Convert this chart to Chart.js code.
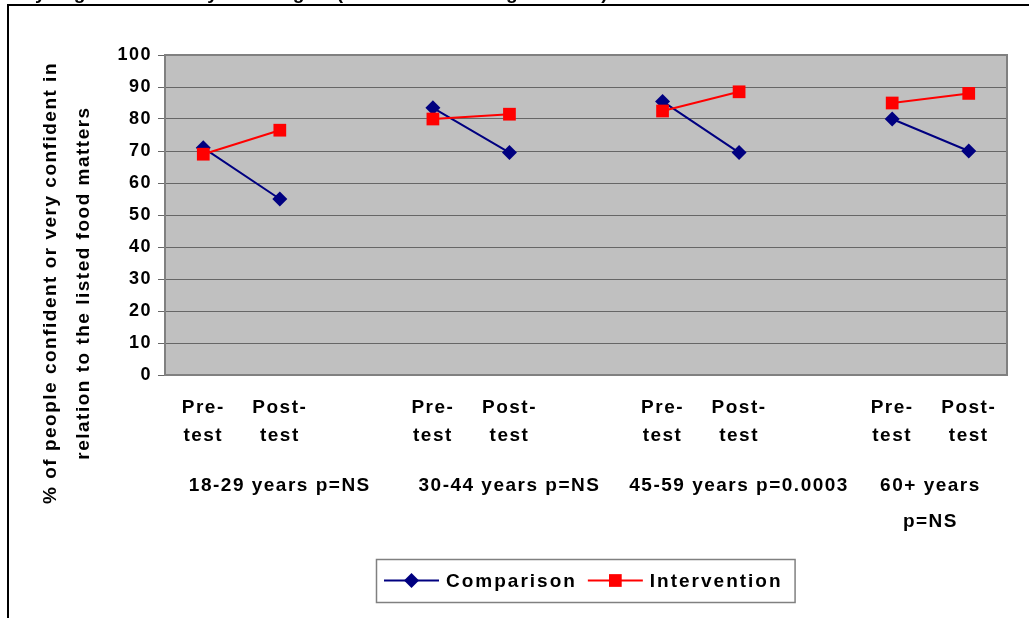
<!DOCTYPE html>
<html>
<head>
<meta charset="utf-8">
<script src="https://cdn.jsdelivr.net/npm/chart.js@4.4.1/dist/chart.umd.min.js"></script>
<style>
  html, body { margin: 0; padding: 0; background: #fff; overflow: hidden; }
  #wrap { position: relative; width: 1029px; height: 618px; }
  #frame { position: absolute; left: 7px; top: 4px; right: -20px; bottom: -20px;
           border-left: 2px solid #000; border-top: 2px solid #000; }
  #chart { position: absolute; left: 0; top: 0; width: 1029px; height: 618px; }
</style>
</head>
<body>
<div id="wrap"><div id="frame"></div><canvas id="chart" width="1029" height="618"></canvas></div>
<script>
var FONT = '"Liberation Sans", Arial, Helvetica, sans-serif';
var SPACING = "1.5px";

// caption sits above the frame; only its descenders reach into the page
var caption = "Confidence was fairly high for the key messages (across all the age bands)";

var categories = ["Pre-test", "Post-test", "", "Pre-test", "Post-test", "",
                  "Pre-test", "Post-test", "", "Pre-test", "Post-test"];
var groupLabels = [["18-29 years p=NS"], ["30-44 years p=NS"],
                   ["45-59 years p=0.0003"], ["60+ years", "p=NS"]];
var comparison   = [71, 55, null, 83.5, 69.5, null, 85.5, 69.5, null, 80, 70];
var intervention = [69, 76.5, null, 80, 81.5, null, 82.5, 88.5, null, 85, 88];
var yTitle = ["% of people confident or very confident in",
              "relation to the listed food matters"];
var yMin = 0, yMax = 100, yStep = 10;

// each group runs up to and including the blank spacer category after it
function groupSpans() {
  var spans = [], start = 0;
  categories.forEach(function (c, i) {
    if (c === "" || i === categories.length - 1) { spans.push([start, i]); start = i + 1; }
  });
  return spans;
}

function drawCaption(ctx) {
  ctx.save();
  ctx.font = "bold 19px " + FONT;
  ctx.letterSpacing = SPACING;
  ctx.fillStyle = "#000";
  ctx.textBaseline = "alphabetic";
  var lead = ctx.measureText("Confidence was fairl").width;
  ctx.fillText(caption, 35 - lead, -1);
  ctx.restore();
}

function drawYTitle(ctx) {
  ctx.save();
  ctx.font = "bold 19px " + FONT;
  ctx.letterSpacing = SPACING;
  ctx.fillStyle = "#000";
  ctx.textAlign = "center";
  ctx.textBaseline = "alphabetic";
  ctx.translate(56, 283);
  ctx.rotate(-Math.PI / 2);
  yTitle.forEach(function (line, i) { ctx.fillText(line, 0, i * 33); });
  ctx.restore();
}

function drawGroups(chart) {
  var ctx = chart.ctx, x = chart.scales.x;
  ctx.save();
  ctx.font = "bold 19px " + FONT;
  ctx.letterSpacing = SPACING;
  ctx.fillStyle = "#000";
  ctx.textAlign = "center";
  ctx.textBaseline = "alphabetic";
  groupSpans().forEach(function (s, g) {
    var cx = (x.getPixelForValue(s[0]) + x.getPixelForValue(s[1])) / 2;
    (groupLabels[g] || []).forEach(function (line, i) {
      ctx.fillText(line, cx, 491 + i * 36);
    });
  });
  ctx.restore();
}

function drawLegend(chart) {
  var ctx = chart.ctx, sets = chart.data.datasets;
  var lineLen = 55, gapText = 7, gapItem = 11, padL = 8, padR = 12, top = 559, h = 43;
  ctx.save();
  ctx.font = "bold 19px " + FONT;
  ctx.letterSpacing = "2px";
  var widths = sets.map(function (d) { return ctx.measureText(d.label).width; });
  var total = padL + padR;
  widths.forEach(function (w, i) { total += lineLen + gapText + w + (i < widths.length - 1 ? gapItem : 0); });
  var a = chart.chartArea;
  var left = Math.round((a.left + a.right) / 2 - total / 2) - 1;
  ctx.fillStyle = "#fff";
  ctx.fillRect(left, top, total, h);
  ctx.strokeStyle = "#808080";
  ctx.lineWidth = 1.5;
  ctx.strokeRect(left + 0.5, top + 0.5, total, h);
  var cy = top + h / 2;
  var x = left + padL;
  sets.forEach(function (d, i) {
    ctx.strokeStyle = d.borderColor;
    ctx.fillStyle = d.backgroundColor;
    ctx.lineWidth = 2;
    ctx.beginPath(); ctx.moveTo(x, cy); ctx.lineTo(x + lineLen, cy); ctx.stroke();
    Chart.helpers.drawPoint(ctx, { pointStyle: d.pointStyle, radius: d.pointRadius, rotation: 0, borderWidth: 0 },
                            x + lineLen / 2, cy);
    x += lineLen + gapText;
    ctx.fillStyle = "#000";
    ctx.textBaseline = "middle";
    ctx.textAlign = "left";
    ctx.fillText(d.label, x, cy + 1);
    x += widths[i] + gapItem;
  });
  ctx.restore();
}

var decor = {
  id: "decor",
  beforeLayout: function (chart) { chart.ctx.letterSpacing = SPACING; },
  beforeDraw: function (chart) {
    var ctx = chart.ctx, a = chart.chartArea;
    ctx.save();
    ctx.fillStyle = "#c0c0c0";
    ctx.fillRect(a.left, a.top, a.right - a.left, a.bottom - a.top);
    ctx.restore();
    ctx.letterSpacing = SPACING;
  },
  beforeDatasetsDraw: function (chart) {
    var ctx = chart.ctx, a = chart.chartArea;
    ctx.save();
    ctx.strokeStyle = "#808080";
    ctx.lineWidth = 2;
    ctx.strokeRect(a.left, a.top, a.right - a.left, a.bottom - a.top);
    ctx.restore();
  },
  afterDraw: function (chart) {
    drawCaption(chart.ctx);
    drawYTitle(chart.ctx);
    drawGroups(chart);
    drawLegend(chart);
  }
};

new Chart(document.getElementById("chart"), {
  type: "line",
  data: {
    labels: categories,
    datasets: [
      { label: "Comparison", data: comparison, borderColor: "#000080", backgroundColor: "#000080",
        borderWidth: 2, pointStyle: "rectRot", pointRadius: 7.5, pointHoverRadius: 7.5,
        pointBorderWidth: 0, spanGaps: false, tension: 0, order: 1 },
      { label: "Intervention", data: intervention, borderColor: "#ff0000", backgroundColor: "#ff0000",
        borderWidth: 2, pointStyle: "rect", pointRadius: 9, pointHoverRadius: 9,
        pointBorderWidth: 0, spanGaps: false, tension: 0, order: 0 }
    ]
  },
  options: {
    responsive: false,
    animation: false,
    devicePixelRatio: 1,
    layout: { padding: { left: 0, right: 22, top: 55, bottom: 0 } },
    plugins: { legend: { display: false }, tooltip: { enabled: false } },
    events: [],
    scales: {
      x: {
        type: "category",
        offset: true,
        grid: { display: false, drawTicks: false },
        border: { display: false },
        ticks: {
          autoSkip: false, maxRotation: 0, minRotation: 0, padding: 19, color: "#000",
          font: { family: FONT, size: 19, weight: "bold", lineHeight: 28 / 19 },
          callback: function (v, i) { var c = categories[i]; return c ? c.replace("-", "-\n").split("\n") : ""; }
        },
        afterFit: function (s) { s.height = 243; }
      },
      y: {
        min: yMin, max: yMax,
        grid: { color: "#666666", lineWidth: 1, drawTicks: true, tickLength: 7 },
        border: { display: false },
        ticks: {
          stepSize: yStep, padding: 6, color: "#000",
          font: { family: FONT, size: 18, weight: "bold" }
        },
        afterFit: function (s) { s.width = 165; }
      }
    }
  },
  plugins: [decor]
});
</script>
</body>
</html>
